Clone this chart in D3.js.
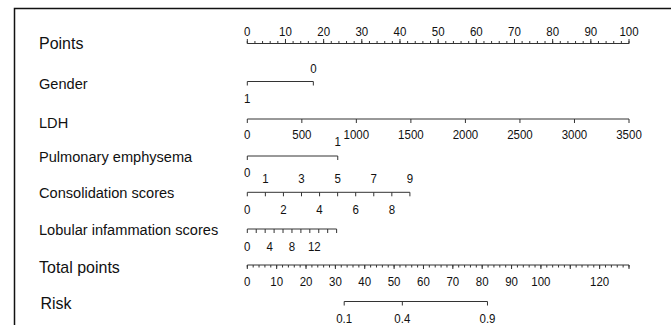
<!DOCTYPE html>
<html>
<head>
<meta charset="utf-8">
<script src="https://cdn.jsdelivr.net/npm/d3@7"></script>
<style>
  body { margin: 0; background: #fff; }
  svg { display: block; font-family: "Liberation Sans", Arial, sans-serif; }
</style>
</head>
<body>
<div id="chart"></div>
<script>
// nomogram values
const pointsTicks = [0, 10, 20, 30, 40, 50, 60, 70, 80, 90, 100];
const pointsMinor = d3.range(0, 101, 2);

const genderLevels = ["1", "0"];
const genderPoints = [0, 17.3];

const ldhTicks = [0, 500, 1000, 1500, 2000, 2500, 3000, 3500];
const ldhPoints = [0, 100];          // points at 0 and 3500

const emphysemaLevels = ["0", "1"];
const emphysemaPoints = [0, 23.7];

const consolidationValues = [0, 1, 2, 3, 4, 5, 6, 7, 8, 9];
const consolidationPoints = [0, 42.6]; // points at 0 and 9

const lobularLabels = [0, 4, 8, 12];
const lobularTicks = [0, 1.6, 3.2, 4.8, 6.4, 8, 9.6, 11.2, 12.8, 14.4, 16];
const lobularPoints = [0, 23.4];       // points at 0 and 16

const totalLabels = [0, 10, 20, 30, 40, 50, 60, 70, 80, 90, 100, 120];
const totalMinor = d3.range(0, 131, 2);
const totalMax = 130;

const riskLabels = ["0.1", "0.4", "0.9"];
const riskTotal = [33.0, 52.8, 81.8];

const rowNames = ["Points", "Gender", "LDH", "Pulmonary emphysema", "Consolidation scores",
  "Lobular infammation scores", "Total points", "Risk"];

const W = 671, H = 325;
const svg = d3.select("#chart").append("svg").attr("width", W).attr("height", H);

svg.append("rect")
  .attr("x", 14.5).attr("y", 8.5)
  .attr("width", 700).attr("height", 400)
  .attr("fill", "none").attr("stroke", "#111").attr("stroke-width", 1.5);

// row labels
const labelY = [43, 84, 123, 157, 193, 230, 267, 303];
const bigRows = ["Points", "Total points", "Risk"];
svg.selectAll(".rowlab")
  .data(rowNames)
  .enter().append("text")
  .attr("class", "rowlab")
  .attr("transform", (d, i) => `translate(${d === "Risk" ? 40.5 : 39},${labelY[i]}) scale(1,1.06)`)
  .attr("dy", "0.35em")
  .attr("fill", "#111")
  .style("font-size", d => bigRows.includes(d) ? "16px" : "14.6px")
  .text(d => d);

const px = d3.scaleLinear().domain([0, 100]).range([247.3, 629]);
const tx = d3.scaleLinear().domain([0, totalMax]).range([247.3, 629]);

const ink = "#333";
const fs = "11.5px";

function hline(y, x1, x2) {
  svg.append("line").attr("x1", x1).attr("x2", x2).attr("y1", y).attr("y2", y)
    .attr("stroke", ink).attr("stroke-width", 1);
}
function ticks(y, xs, len) {
  svg.append("g").selectAll("line").data(xs).enter().append("line")
    .attr("x1", d => d).attr("x2", d => d)
    .attr("y1", y).attr("y2", y + len)
    .attr("stroke", ink).attr("stroke-width", 1);
}
// tick labels in the reference are a little taller than wide
function labels(y, data, xf, tf) {
  svg.append("g").selectAll("text").data(data).enter().append("text")
    .attr("transform", (d, i) => `translate(${xf(d, i)},${y}) scale(1,1.18)`)
    .attr("dy", "0.35em")
    .attr("text-anchor", "middle")
    .attr("fill", "#111")
    .style("font-size", fs)
    .text(tf);
}

// Points
const yP = 43.5;
hline(yP, px(0), px(100));
ticks(yP, pointsMinor.map(px), -2.5);
ticks(yP, pointsTicks.map(px), -4.5);
labels(31.7, pointsTicks, d => px(d), d => d);

// categorical rows: even index below, odd index above
function catRow(y, levels, pts, yAbove, yBelow) {
  hline(y, px(d3.min(pts)), px(d3.max(pts)));
  ticks(y, pts.map(px), 4);
  labels(yBelow, levels.filter((d, i) => i % 2 === 0), (d) => px(pts[levels.indexOf(d)]), d => d);
  labels(yAbove, levels.filter((d, i) => i % 2 === 1), (d) => px(pts[levels.indexOf(d)]), d => d);
}

catRow(81.5, genderLevels, genderPoints, 68, 98);

// LDH
const ldhX = d3.scaleLinear().domain([0, 3500]).range(ldhPoints.map(px));
const yL = 119;
hline(yL, ldhX(0), ldhX(3500));
ticks(yL, ldhTicks.map(ldhX), 4);
labels(134, ldhTicks, d => ldhX(d), d => d);

catRow(156, emphysemaLevels, emphysemaPoints, 141.7, 172);

// Consolidation
const conX = d3.scaleLinear().domain([0, 9]).range(consolidationPoints.map(px));
const yC = 192.3;
hline(yC, conX(0), conX(9));
ticks(yC, consolidationValues.map(conX), 4);
labels(209, consolidationValues.filter(d => d % 2 === 0), d => conX(d), d => d);
labels(178.3, consolidationValues.filter(d => d % 2 === 1), d => conX(d), d => d);

// Lobular inflammation
const lobX = d3.scaleLinear().domain([0, 16]).range(lobularPoints.map(px));
const yB = 229;
hline(yB, lobX(0), lobX(16));
ticks(yB, lobularTicks.map(lobX), 4);
labels(246, lobularLabels, d => lobX(d), d => d);

// Total points
const yT = 265;
hline(yT, tx(0), tx(totalMax));
ticks(yT, totalMinor.map(tx), 2.5);
ticks(yT, d3.range(0, 131, 10).map(tx), 4);
labels(281.7, totalLabels, d => tx(d), d => d);

// Risk
const yR = 301.5;
hline(yR, tx(riskTotal[0]), tx(riskTotal[riskTotal.length - 1]));
ticks(yR, riskTotal.map(tx), 4);
labels(318, riskLabels, (d, i) => tx(riskTotal[i]), d => d);
</script>
</body>
</html>
